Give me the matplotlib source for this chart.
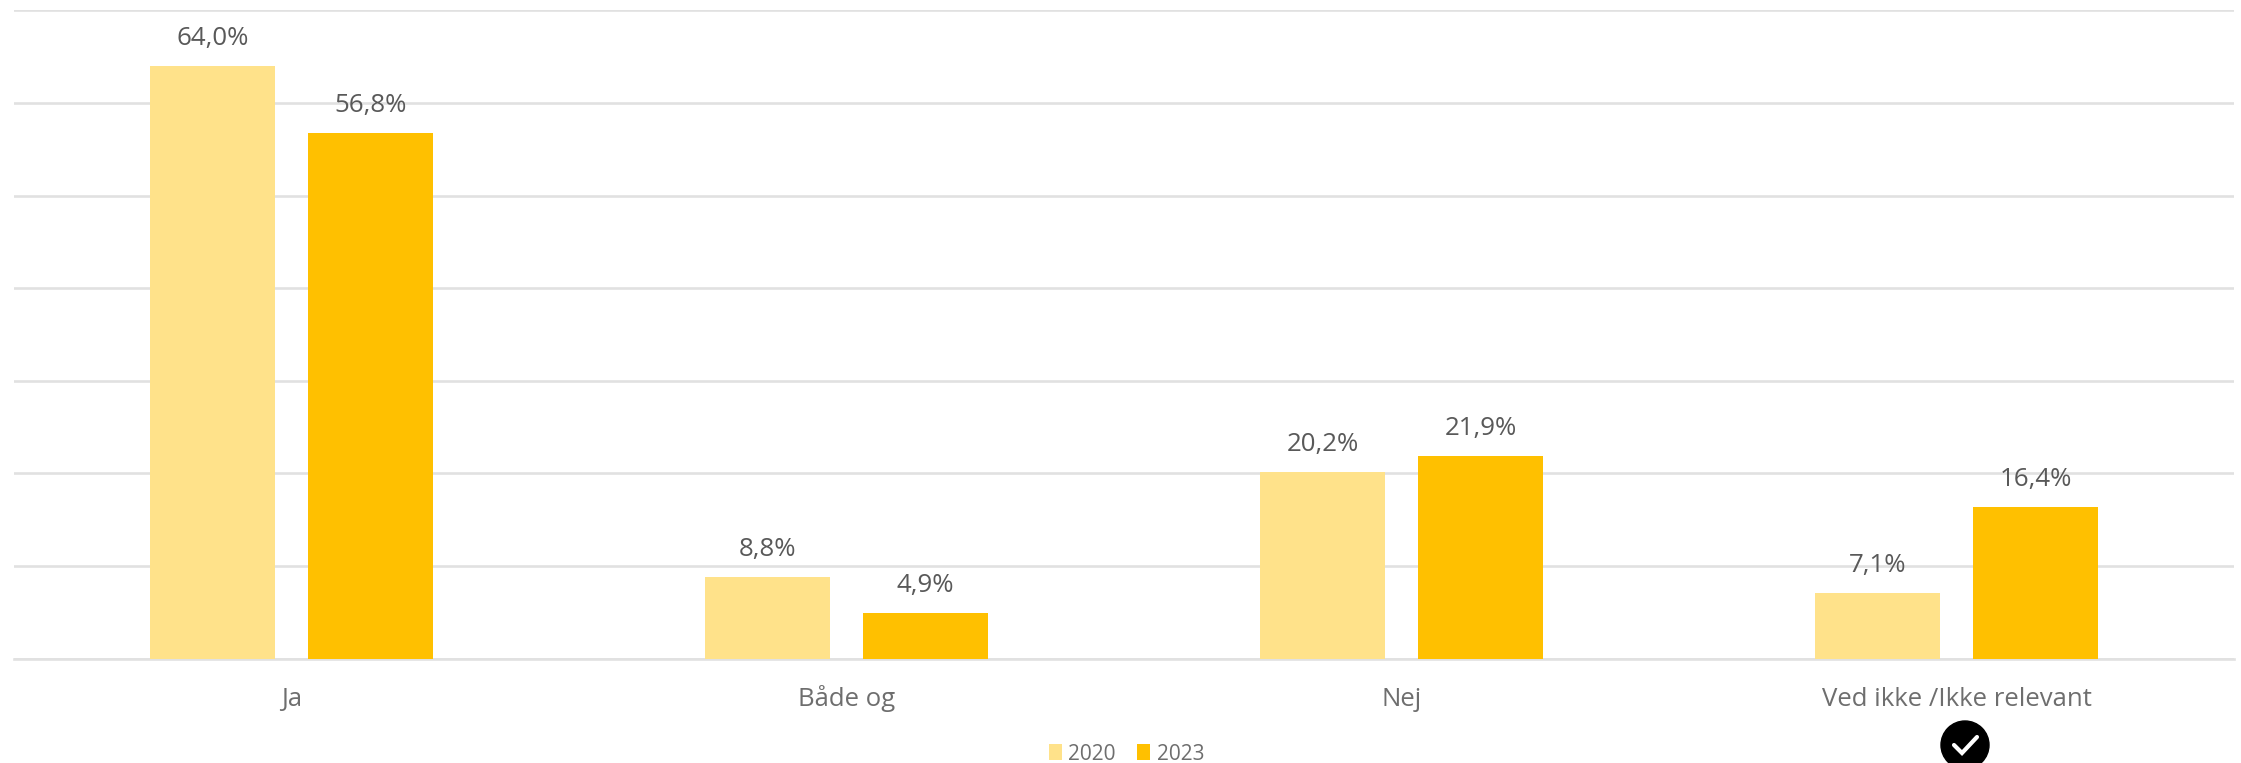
import numpy as np
import matplotlib
matplotlib.use('Agg')
import matplotlib.pyplot as plt
from matplotlib.patches import Circle
from matplotlib.lines import Line2D

categories = ['Ja', 'Både og', 'Nej', 'Ved ikke /Ikke relevant']
values_2020 = [64.0, 8.8, 20.2, 7.1]
values_2023 = [56.8, 4.9, 21.9, 16.4]
years = ['2020', '2023']
yticks = [0, 10, 20, 30, 40, 50, 60, 70]

W, H = 2241, 763
plt.rcParams['font.family'] = ['Open Sans', 'DejaVu Sans']

fig = plt.figure(figsize=(W / 100, H / 100), dpi=100)
ax = fig.add_axes([14 / W, 1 - 658.5 / H, (2234 - 14) / W, (658.5 - 10.5) / H])

x = np.arange(len(categories))
off = 0.1423
bw = 0.224
bars1 = ax.bar(x - off, values_2020, bw, color='#FFE28A', zorder=3, label=years[0])
bars2 = ax.bar(x + off, values_2023, bw, color='#FFC000', zorder=3, label=years[1])

for bars, vals in [(bars1, values_2020), (bars2, values_2023)]:
    for b, v in zip(bars, vals):
        ax.annotate(f'{v:.1f}%'.replace('.', ','), (b.get_x() + b.get_width() / 2, v),
                    xytext=(0, 15), textcoords='offset points', ha='center', va='baseline',
                    fontsize=18.6, color='#595959', zorder=4)

ax.set_xlim(-0.5, 3.5)
ax.set_ylim(0, 70)
ax.set_yticks(yticks)
ax.set_yticklabels([])
ax.set_xticks(x)
ax.set_xticklabels(categories, fontsize=18.5, color='#6E6E6E', va='baseline')
ax.tick_params(axis='both', length=0)
ax.tick_params(axis='x', pad=34)
ax.grid(axis='y', color='#E1E1E1', lw=1.9, zorder=0)
ax.set_axisbelow(True)
for s in ['top', 'right', 'left']:
    ax.spines[s].set_visible(False)
ax.spines['bottom'].set_color('#E1E1E1')
ax.spines['bottom'].set_linewidth(1.9)

fig.legend(handles=[bars1, bars2], labels=years, loc='center', ncol=2,
           bbox_to_anchor=(1126.5 / W, 1 - 754 / H), frameon=False, fontsize=15,
           labelcolor='#6E6E6E', handlelength=0.62, handleheight=0.8, handletextpad=0.3,
           columnspacing=1.05, borderpad=0, borderaxespad=0)

# check badge under the last category
cx, cy, r = 1965, 745, 24
fig.add_artist(Circle((cx, H - cy), r, transform=None, color='black', zorder=5))
fig.add_artist(Line2D([cx - 11, cx - 3, cx + 12], [H - cy, H - cy - 8, H - cy + 8], transform=None,
                      color='white', lw=3, solid_capstyle='round', solid_joinstyle='miter', zorder=6))

fig.savefig('out.png', dpi=100, facecolor='white')
